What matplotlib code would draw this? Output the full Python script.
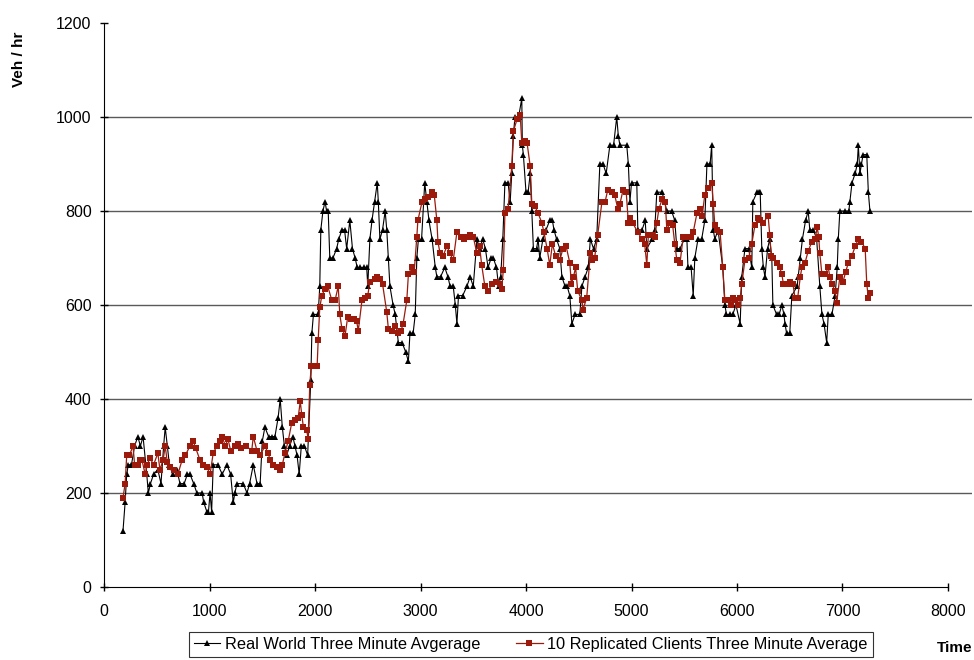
import matplotlib
matplotlib.use("Agg")
import matplotlib.pyplot as plt

# -----------------------------
# DATA
# -----------------------------
real_t = [180, 200, 215, 230, 260, 290, 320, 345, 370, 405, 420, 440, 470, 510, 540, 565, 580, 600,
          620, 650, 690, 720, 760, 790, 815, 850, 880, 930, 945, 975, 990, 1005, 1020, 1035, 1080,
          1120, 1165, 1200, 1225, 1240, 1260, 1320, 1355, 1380, 1415, 1450, 1480, 1500, 1525, 1560,
          1590, 1620, 1650, 1670, 1690, 1710, 1730, 1760, 1790, 1810, 1830, 1850, 1870, 1900, 1930,
          1960, 1970, 1985, 2030, 2045, 2055, 2075, 2095, 2110, 2125, 2140, 2170, 2205, 2225, 2255,
          2280, 2300, 2330, 2355, 2380, 2400, 2425, 2460, 2490, 2500, 2520, 2540, 2565, 2590, 2600,
          2615, 2640, 2665, 2680, 2695, 2710, 2740, 2760, 2790, 2825, 2860, 2885, 2900, 2930, 2950,
          2965, 2980, 3010, 3040, 3060, 3080, 3110, 3140, 3155, 3190, 3230, 3260, 3280, 3310, 3330,
          3345, 3360, 3400, 3440, 3470, 3500, 3535, 3560, 3590, 3615, 3640, 3670, 3690, 3720, 3740,
          3760, 3780, 3800, 3830, 3850, 3865, 3880, 3895, 3930, 3960, 3965, 3975, 4000, 4020, 4040,
          4055, 4070, 4100, 4115, 4130, 4160, 4190, 4225, 4250, 4265, 4290, 4320, 4340, 4370, 4390,
          4415, 4435, 4465, 4510, 4530, 4560, 4590, 4610, 4640, 4670, 4700, 4730, 4760, 4795, 4830,
          4860, 4875, 4890, 4955, 4970, 4985, 5000, 5050, 5060, 5100, 5130, 5145, 5195, 5220, 5240,
          5290, 5335, 5380, 5410, 5430, 5460, 5500, 5525, 5535, 5565, 5585, 5600, 5630, 5665, 5695,
          5715, 5745, 5760, 5775, 5790, 5820, 5865, 5885, 5900, 5935, 5960, 5990, 6030, 6045, 6075,
          6110, 6140, 6150, 6190, 6210, 6220, 6235, 6250, 6265, 6290, 6310, 6330, 6340, 6375, 6400,
          6425, 6445, 6455, 6470, 6500, 6520, 6570, 6580, 6600, 6620, 6650, 6675, 6690, 6725, 6755,
          6785, 6805, 6825, 6850, 6865, 6900, 6930, 6950, 6960, 6975, 7025, 7060, 7070, 7090, 7120,
          7140, 7150, 7165, 7180, 7195, 7230, 7245, 7260]
real_v = [120, 180, 240, 260, 260, 300, 320, 300, 320, 240, 200, 220, 240, 250, 220, 300, 340, 300,
          260, 240, 250, 220, 220, 240, 240, 220, 200, 200, 180, 160, 160, 200, 160, 260, 260,
          240, 260, 240, 180, 200, 220, 220, 200, 220, 260, 220, 220, 310, 340, 320,
          320, 320, 360, 400, 340, 300, 280, 300, 320, 300, 280, 240, 300, 300, 280,
          440, 540, 580, 580, 640, 760, 800, 820, 800, 800, 700, 700, 720, 740, 760,
          760, 720, 780, 720, 700, 680, 680, 680, 680, 640, 740, 780, 820, 860, 820,
          740, 760, 800, 760, 700, 640, 600, 580, 520, 520, 500, 480, 540, 540, 580,
          700, 740, 740, 860, 820, 780, 740, 680, 660, 660, 680, 660, 640, 640, 600,
          560, 620, 620, 640, 660, 640, 740, 720, 740, 720, 680, 700, 700, 680, 640,
          660, 740, 860, 860, 820, 880, 960, 1000, 1000, 1040, 940, 920, 840, 840, 880,
          800, 720, 720, 740, 700, 740, 760, 780, 780, 760, 740, 720, 660, 640, 640,
          620, 560, 580, 580, 640, 660, 680, 740, 720, 740, 900, 900, 880, 940, 940,
          1000, 960, 940, 940, 900, 820, 860, 860, 760, 760, 780, 720, 740, 760, 840,
          840, 800, 800, 780, 720, 720, 740, 740, 680, 680, 620, 700, 740, 740, 780,
          900, 900, 940, 760, 740, 760, 680, 600, 580, 580, 580, 600, 560, 660, 720,
          720, 680, 820, 840, 840, 840, 720, 680, 660, 720, 740, 700, 600, 580, 580,
          600, 580, 560, 540, 540, 620, 640, 660, 700, 740, 780, 800, 760, 760, 740,
          640, 580, 560, 520, 580, 580, 620, 680, 740, 800, 800, 800, 820, 860, 880,
          900, 940, 880, 900, 920, 920, 840, 800]

rep_t = [180, 200, 215, 240, 275, 290, 320, 345, 360, 390, 410, 435, 470, 510, 530, 560, 580, 600,
         625, 660, 700, 740, 770, 815, 845, 870, 910, 940, 975, 1005, 1035, 1070, 1100, 1120, 1150,
         1175, 1200, 1240, 1270, 1300, 1350, 1400, 1415, 1450, 1480, 1525, 1555, 1575, 1600, 1640,
         1670, 1690, 1715, 1745, 1780, 1810, 1840, 1860, 1875, 1890, 1920, 1935, 1950, 1965, 2000,
         2020, 2030, 2045, 2065, 2095, 2120, 2160, 2190, 2220, 2235, 2255, 2285, 2310, 2340, 2370,
         2395, 2410, 2445, 2475, 2500, 2520, 2565, 2590, 2615, 2640, 2680, 2695, 2730, 2760, 2790,
         2815, 2835, 2870, 2885, 2915, 2940, 2965, 2975, 3015, 3040, 3070, 3110, 3130, 3155, 3165,
         3185, 3215, 3250, 3280, 3310, 3345, 3380, 3410, 3440, 3470, 3500, 3535, 3560, 3580, 3610,
         3640, 3680, 3720, 3750, 3770, 3785, 3800, 3830, 3865, 3880, 3915, 3945, 3960, 3990, 4010,
         4040, 4055, 4085, 4115, 4150, 4170, 4200, 4225, 4250, 4280, 4320, 4350, 4380, 4415, 4430,
         4450, 4470, 4490, 4530, 4540, 4575, 4610, 4630, 4650, 4680, 4720, 4750, 4775, 4815, 4840,
         4870, 4890, 4920, 4950, 4970, 4985, 5010, 5060, 5100, 5125, 5145, 5160, 5195, 5220, 5240,
         5260, 5290, 5320, 5335, 5365, 5390, 5410, 5430, 5460, 5490, 5530, 5560, 5585, 5620, 5650,
         5670, 5695, 5725, 5760, 5775, 5790, 5815, 5840, 5865, 5885, 5910, 5940, 5960, 5980, 6010,
         6030, 6045, 6075, 6110, 6140, 6170, 6200, 6220, 6250, 6295, 6310, 6325, 6345, 6375, 6405,
         6425, 6440, 6470, 6500, 6530, 6550, 6575, 6600, 6615, 6645, 6675, 6710, 6740, 6760, 6775,
         6785, 6805, 6835, 6865, 6880, 6900, 6930, 6945, 6975, 7005, 7030, 7055, 7090, 7120, 7150,
         7180, 7215, 7230, 7245, 7260]
rep_v = [190, 220, 280, 280, 300, 260, 260, 270, 270, 240, 260, 275, 260, 285, 250, 270, 300, 265,
         255, 250, 240, 270, 280, 300, 310, 295, 270, 260, 255, 240, 285, 300, 310, 320, 300,
         315, 290, 300, 305, 295, 300, 290, 320, 290, 280, 300, 285, 270, 260, 255,
         250, 260, 285, 310, 350, 355, 360, 395, 365, 340, 335, 315, 430, 470, 470,
         470, 525, 595, 620, 635, 640, 610, 610, 640, 580, 550, 535, 575, 570, 570,
         565, 545, 610, 615, 620, 650, 655, 660, 655, 645, 585, 550, 545, 555, 540,
         545, 560, 610, 665, 680, 670, 745, 780, 820, 825, 830, 840, 835, 780, 735,
         710, 705, 725, 710, 695, 755, 745, 740, 745, 750, 745, 710, 725, 685, 640,
         630, 645, 650, 645, 635, 675, 795, 805, 895, 970, 995, 1005, 945, 950, 945,
         895, 815, 810, 795, 775, 755, 720, 685, 730, 705, 695, 720, 725, 690, 645,
         660, 680, 630, 610, 590, 615, 710, 695, 700, 750, 820, 820, 845, 840, 835,
         805, 815, 845, 840, 775, 785, 775, 755, 740, 730, 685, 750, 750, 745, 775,
         805, 825, 820, 760, 775, 770, 730, 695, 690, 745, 745, 745, 755, 795, 805,
         790, 835, 850, 860, 815, 770, 760, 755, 680, 610, 610, 600, 615, 610, 600,
         615, 645, 695, 700, 730, 770, 785, 780, 775, 790, 750, 705, 700, 690, 680,
         665, 645, 645, 650, 645, 615, 615, 660, 680, 690, 715, 735, 740, 765, 745,
         710, 665, 665, 680, 660, 645, 630, 605, 660, 650, 670, 690, 705, 725, 740,
         735, 720, 645, 615, 625]

x_ticks = [0, 1000, 2000, 3000, 4000, 5000, 6000, 7000, 8000]
y_ticks = [0, 200, 400, 600, 800, 1000, 1200]

# -----------------------------
# CHART
# -----------------------------
plt.rcParams["font.family"] = ["Liberation Sans", "DejaVu Sans"]

fig = plt.figure(figsize=(9.74, 6.6), dpi=100)
ax = fig.add_axes([0.1068, 0.1106, 0.8665 * 8230 / 8000, 0.8545])

# horizontal gridlines (no line at the top)
for yv in y_ticks[1:-1]:
    ax.axhline(yv, color="#5a5a5a", lw=1.0, zorder=0)

ax.plot(real_t, real_v, color="black", lw=0.8, marker="^", ms=4,
        markeredgewidth=0, label="Real World Three Minute Avgerage", zorder=3)
ax.plot(rep_t, rep_v, color="#9b1a0c", lw=0.9, marker="s", ms=4,
        markeredgewidth=0, label="10 Replicated Clients Three Minute Average", zorder=4)

ax.set_xlim(0, 8230)
ax.set_ylim(0, 1200)
ax.set_xticks(x_ticks)
ax.set_yticks(y_ticks)
ax.tick_params(direction="inout", length=6, width=1, labelsize=11.5, color="black")
ax.tick_params(axis="x", pad=9)
ax.tick_params(axis="y", pad=6)
ax.spines["top"].set_visible(False)
ax.spines["right"].set_visible(False)
ax.spines["bottom"].set_bounds(0, 8000)

fig.text(0.019, 0.91, "Veh / hr", rotation=90, fontsize=11, fontweight="bold",
         ha="center", va="center")
fig.text(0.98, 0.008, "Time", fontsize=11, fontweight="bold", ha="center", va="bottom")

leg = fig.legend(loc="lower center", bbox_to_anchor=(0.545, 0.0), ncol=2,
                 fontsize=11.8, frameon=True, fancybox=False, handlelength=1.6,
                 handletextpad=0.3, columnspacing=2.2, borderpad=0.3, borderaxespad=0.2)
leg.get_frame().set_edgecolor("black")
leg.get_frame().set_linewidth(0.8)

fig.savefig("out.png", dpi=100)
